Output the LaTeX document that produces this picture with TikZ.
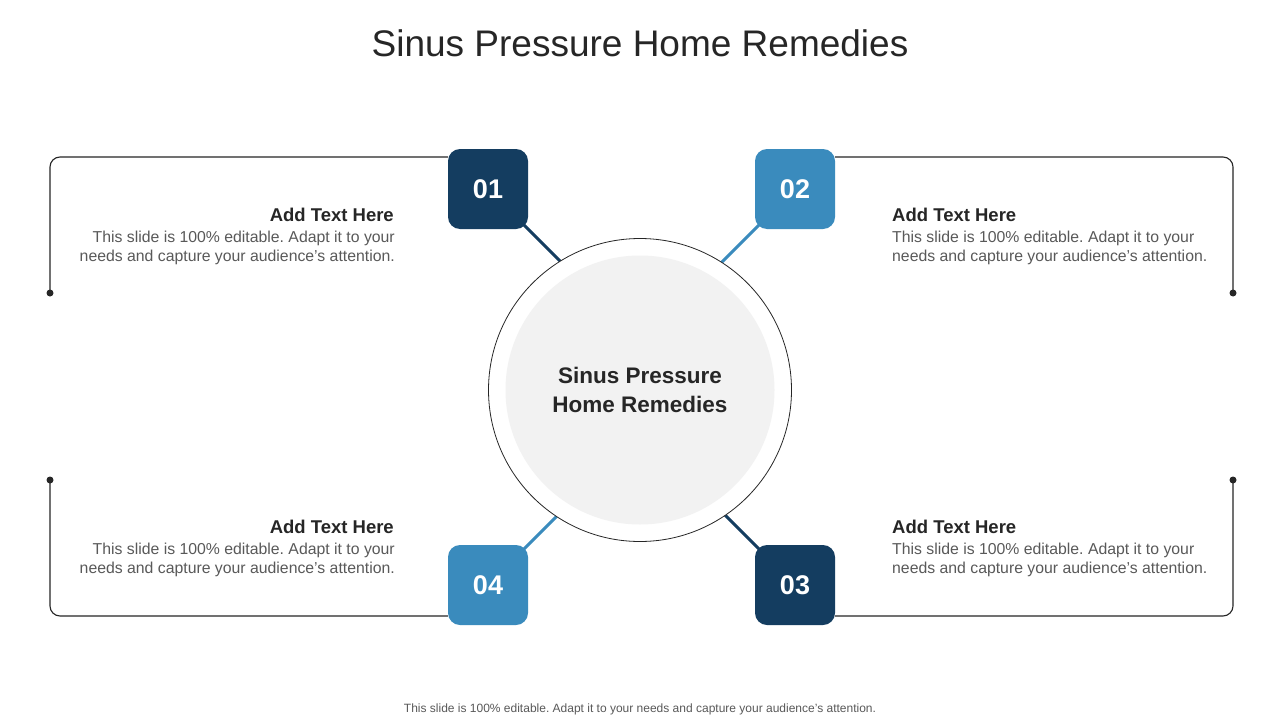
\documentclass[tikz,border=0pt]{standalone}
\usepackage{fontspec}
\setmainfont{Liberation Sans}
\frenchspacing
\usetikzlibrary{calc}
\definecolor{navy}{HTML}{143D60}
\definecolor{sky}{HTML}{3A8BBD}
\definecolor{ink}{HTML}{262626}
\definecolor{body}{HTML}{595959}
\definecolor{pale}{HTML}{F2F2F2}
\pgfdeclarelayer{bg}
\pgfdeclarelayer{lines}
\pgfsetlayers{bg,lines,main}
\tikzset{
  numbox/.style={rectangle, rounded corners=12pt, minimum width=80pt, minimum height=80pt, inner sep=0pt,
    text=white, font=\fontsize{27}{27}\selectfont\bfseries},
  frame/.style={draw=ink, line width=1.1pt, rounded corners=10pt},
  dotend/.style={circle, fill=ink, inner sep=0pt, minimum size=7pt},
  link/.style={line width=3pt},
  headl/.style={anchor=base east, text=ink, font=\fontsize{18.5}{18.5}\selectfont\bfseries, inner sep=0pt},
  headr/.style={anchor=base west, text=ink, font=\fontsize{18.5}{18.5}\selectfont\bfseries, inner sep=0pt},
  bodyl/.style={anchor=north east, align=right, text=body, font=\fontsize{15.8}{19}\selectfont, inner sep=0pt},
  bodyr/.style={anchor=north west, align=left, text=body, font=\fontsize{15.8}{19}\selectfont, inner sep=0pt},
}
\begin{document}
\begin{tikzpicture}[x=1pt,y=-1pt]
\begin{pgfonlayer}{bg}
\fill[white] (0,0) rectangle (1280,720);
\end{pgfonlayer}
\useasboundingbox (0,0) rectangle (1280,720);

% title
\node[anchor=base, text=ink, font=\fontsize{37}{37}\selectfont, inner sep=0pt] (title) at (640,56) {Sinus Pressure Home Remedies};

% center circle
\node[circle, draw=ink, line width=0.8pt, fill=white, minimum size=303pt, inner sep=0pt] (outer) at (640,390) {};
\node[circle, fill=pale, minimum size=269pt, inner sep=0pt] (inner) at (640,390) {};
\node[align=center, text=ink, font=\fontsize{22.5}{29}\selectfont\bfseries] (ctext) at (640,390) {Sinus Pressure\\Home Remedies};

% number boxes
\node[numbox, fill=navy] (b1) at (488,189) {01};
\node[numbox, fill=sky] (b2) at (795,189) {02};
\node[numbox, fill=navy] (b3) at (795,585) {03};
\node[numbox, fill=sky] (b4) at (488,585) {04};

% connectors (behind circle)
\begin{pgfonlayer}{lines}
\draw[link, navy] (b1.center) -- ($(b1.center)+(85,85)$);
\draw[link, sky] (b2.center) -- ($(b2.center)+(-85,85)$);
\draw[link, navy] (b3.center) -- ($(b3.center)+(-85,-85)$);
\draw[link, sky] (b4.center) -- ($(b4.center)+(85,-85)$);
\end{pgfonlayer}

% frames
\node[dotend] (d1) at (50,293) {};
\node[dotend] (d2) at (1233,293) {};
\node[dotend] (d3) at (1233,480) {};
\node[dotend] (d4) at (50,480) {};
\draw[frame] (b1.west |- 0,157) -- (50,157) -- (d1.center);
\draw[frame] (b2.east |- 0,157) -- (1233,157) -- (d2.center);
\draw[frame] (d3.center) -- (1233,616) -- (b3.east |- 0,616);
\draw[frame] (d4.center) -- (50,616) -- (b4.west |- 0,616);

% text blocks
\node[headl] (h1) at (394,221) {Add Text Here};
\node[bodyl] (t1) at (395,231) {This slide is 100\% editable. Adapt it to your\\needs and capture your audience's attention.};
\node[headr] (h2) at (892,221) {Add Text Here};
\node[bodyr] (t2) at (892,231) {This slide is 100\% editable. Adapt it to your\\needs and capture your audience's attention.};
\node[headr] (h3) at (892,533) {Add Text Here};
\node[bodyr] (t3) at (892,543) {This slide is 100\% editable. Adapt it to your\\needs and capture your audience's attention.};
\node[headl] (h4) at (394,533) {Add Text Here};
\node[bodyl] (t4) at (395,543) {This slide is 100\% editable. Adapt it to your\\needs and capture your audience's attention.};

% footer
\node[anchor=base, text=body, font=\fontsize{12}{12}\selectfont, inner sep=0pt] (foot) at (640,712) {This slide is 100\% editable. Adapt it to your needs and capture your audience's attention.};
\end{tikzpicture}
\end{document}
